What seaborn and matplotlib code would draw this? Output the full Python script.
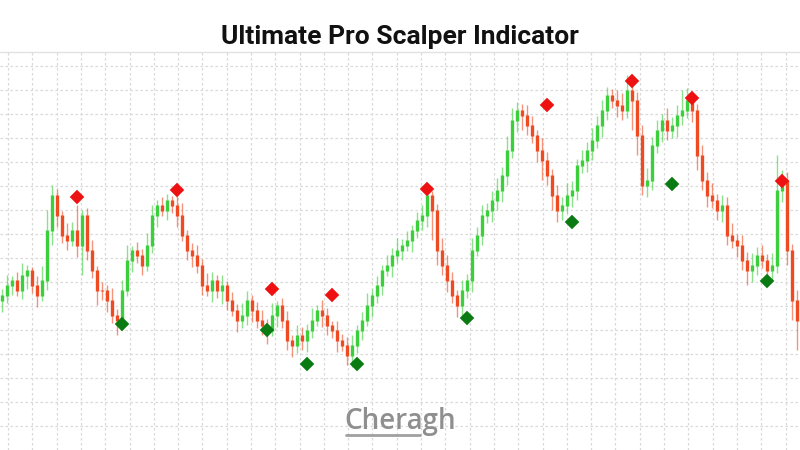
import numpy as np
import pandas as pd
import matplotlib
matplotlib.use('Agg')
import matplotlib.pyplot as plt
import seaborn as sns

# closes in screen-like units (smaller = higher price), one candle every 5 px
closes = [295, 285, 280, 290, 275, 270, 285, 295, 280, 230,
          195, 215, 235, 240, 230, 245, 215, 250, 270, 290,
          290, 300, 315, 320, 290, 260, 250, 255, 265, 245,
          215, 205, 210, 200, 205, 215, 235, 250, 255, 265,
          285, 290, 280, 290, 285, 300, 310, 320, 315, 300,
          310, 320, 325, 330, 315, 305, 320, 340, 345, 335,
          340, 330, 320, 310, 315, 325, 330, 340, 345, 355,
          345, 330, 320, 305, 295, 285, 270, 265, 255, 250,
          245, 240, 230, 220, 215, 195, 210, 250, 265, 280,
          295, 305, 290, 280, 250, 235, 215, 210, 200, 190,
          175, 150, 120, 110, 115, 125, 135, 150, 160, 175,
          195, 210, 205, 195, 190, 165, 160, 150, 140, 125,
          110, 95, 100, 105, 110, 90, 100, 135, 185, 180,
          145, 130, 120, 130, 125, 115, 110, 100, 110, 155,
          180, 195, 200, 210, 205, 235, 240, 245, 260, 270,
          265, 255, 260, 270, 265, 190, 180, 250, 300, 320]
wick_up = [6, 10, 4, 8, 12, 5, 3, 9, 14, 20,
           10, 6, 4, 12, 8, 25, 5, 7, 10, 4,
           8, 5, 12, 6, 10, 15, 4, 8, 6, 12,
           10, 5, 8, 6, 4, 9, 12, 5, 7, 10,
           6, 12, 8, 5, 10, 4, 8, 6, 12, 9,
           5, 8, 10, 6, 12, 4, 7, 9, 5, 10,
           8, 6, 12, 5, 10, 7, 4, 9, 6, 8,
           10, 5, 8, 12, 6, 9, 5, 10, 7, 12,
           6, 9, 5, 8, 10, 8, 4, 6, 12, 10,
           8, 5, 10, 6, 12, 8, 10, 7, 9, 12,
           8, 14, 12, 8, 6, 10, 9, 5, 12, 8,
           6, 10, 8, 12, 9, 6, 10, 8, 12, 9,
           10, 8, 6, 10, 12, 15, 6, 8, 10, 12,
           8, 10, 6, 12, 8, 10, 20, 12, 8, 6,
           10, 8, 12, 6, 10, 8, 12, 6, 10, 8,
           12, 8, 10, 6, 12, 35, 10, 8, 6, 10]
wick_dn = [12, 8, 10, 6, 9, 14, 8, 12, 6, 10,
           15, 12, 8, 10, 6, 12, 30, 10, 8, 15,
           10, 12, 8, 15, 10, 6, 12, 8, 10, 6,
           8, 12, 6, 10, 8, 12, 6, 10, 12, 8,
           10, 6, 12, 8, 14, 10, 6, 12, 8, 10,
           12, 8, 10, 14, 6, 12, 8, 10, 12, 8,
           10, 12, 8, 6, 12, 10, 8, 12, 6, 10,
           12, 8, 10, 6, 12, 8, 10, 6, 12, 8,
           10, 6, 12, 8, 10, 12, 30, 15, 10, 12,
           8, 12, 10, 8, 12, 6, 10, 8, 12, 10,
           12, 10, 8, 12, 15, 10, 8, 12, 20, 10,
           15, 12, 10, 8, 12, 10, 8, 12, 10, 8,
           12, 10, 8, 12, 10, 8, 30, 20, 10, 12,
           10, 8, 12, 10, 8, 12, 10, 8, 12, 15,
           10, 12, 8, 10, 12, 10, 8, 12, 10, 15,
           12, 10, 8, 12, 10, 8, 12, 15, 20, 30]
first_open = 300

sell_idx = [15, 35, 54, 66, 85, 109, 126, 138, 156]
sell_lvl = [197, 190, 289, 295, 189, 105, 81, 98, 181]
buy_idx = [24, 53, 61, 71, 93, 114, 134, 153]
buy_lvl = [324, 330, 364, 364, 318, 222, 184, 281]

sns.set_style('white')

step = 5
n = len(closes)
x = np.arange(n) * step + 2
opens = np.array([first_open] + closes[:-1])
cl = np.array(closes)
top = np.minimum(opens, cl) - np.array(wick_up)
bot = np.maximum(opens, cl) + np.array(wick_dn)
up = cl < opens
colors = np.where(up, '#3ccf3c', '#ee4b22')

fig = plt.figure(figsize=(8, 4.5), dpi=100)
ax = fig.add_axes([0, 0, 1, 400 / 450])
ax.set_xlim(0, 800)
ax.set_ylim(450, 50)

ax.set_xticks(np.arange(8, 800, 24.3))
ax.set_yticks(np.arange(66, 450, 24))
ax.grid(True, color='#d9d9d9', linestyle=(0, (2, 2)), linewidth=0.9)
ax.tick_params(length=0, labelbottom=False, labelleft=False)
for s in ax.spines.values():
    s.set_visible(False)
ax.axhline(52, color='#e2e2e2', lw=1)

ax.vlines(x, top, bot, colors=colors, lw=1, alpha=0.6, zorder=2)
ax.vlines(x, np.minimum(opens, cl), np.maximum(opens, cl) + 1, colors=colors, lw=2.4, zorder=3)

sells = pd.DataFrame({'x': x[sell_idx], 'y': sell_lvl})
buys = pd.DataFrame({'x': x[buy_idx], 'y': buy_lvl})
sns.scatterplot(data=sells, x='x', y='y', marker='D', s=55, color='#ee1111', edgecolor='none', ax=ax, zorder=4)
sns.scatterplot(data=buys, x='x', y='y', marker='D', s=55, color='#0a7a12', edgecolor='none', ax=ax, zorder=4)
ax.set_xlabel('')
ax.set_ylabel('')

fig.text(0.5, 1 - 37 / 450, 'Ultimate Pro Scalper Indicator', ha='center', va='center',
         fontsize=19, fontweight='bold', family='Roboto', color='#111111')
ax.text(400, 421, 'Cheragh', ha='center', va='center', fontsize=20, color='#8f8f8f',
        family='Open Sans', fontweight='semibold', zorder=5)
ax.plot([346, 420], [435, 435], color='#a0a0a0', lw=2, zorder=5)

fig.savefig('out.png', dpi=100)
